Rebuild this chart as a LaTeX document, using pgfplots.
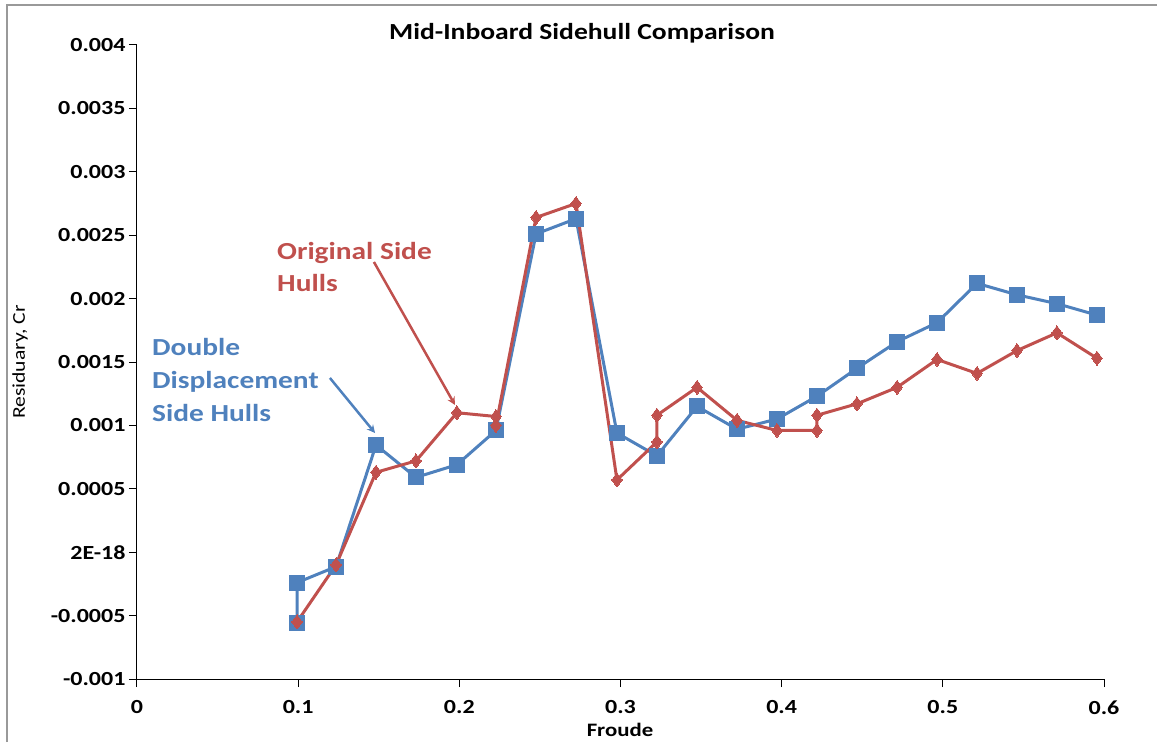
\documentclass[border=0pt]{standalone}
\usepackage{pgfplots}
\pgfplotsset{compat=1.18}
\usepackage{fontspec}
\setmainfont[FakeStretch=1.2]{Carlito}
\definecolor{xlblue}{HTML}{4F81BD}
\definecolor{xlred}{HTML}{C0504D}
\begin{document}
\begin{tikzpicture}
\begin{axis}[
  scale only axis, width=967pt, height=634pt,
  xmin=0, xmax=0.6, ymin=-0.001, ymax=0.004,
  axis x line=bottom, axis y line=left,
  axis line style={-, black, line width=1pt},
  tick align=outside, major tick length=8pt,
  tick style={black, line width=1pt},
  xtick={0,0.1,0.2,0.3,0.4,0.5,0.6},
  xticklabels={0,0.1,0.2,0.3,0.4,0.5,0.6},
  ytick={-0.001,-0.0005,0,0.0005,0.001,0.0015,0.002,0.0025,0.003,0.0035,0.004},
  yticklabels={-0.001,-0.0005,2E-18,0.0005,0.001,0.0015,0.002,0.0025,0.003,0.0035,0.004},
  ticklabel style={font=\bfseries\fontsize{20}{24}\selectfont, text=black},
  xticklabel style={yshift=-10pt},
  scaled ticks=false,
  clip=false,
]
\addplot[xlblue, line width=3pt, mark=square*, mark size=7.5pt, mark options={solid, line width=0pt, fill=xlblue}] coordinates {
(0.0993,-0.00056) (0.0993,-0.00024) (0.1235,-0.000114) (0.1483,0.000845)
(0.1731,0.00059) (0.1985,0.00069) (0.2227,0.00096) (0.2476,0.00251)
(0.2724,0.00263) (0.2978,0.00094) (0.3226,0.00076) (0.3475,0.00115)
(0.3723,0.00097) (0.3971,0.00105) (0.4219,0.00123) (0.4467,0.00145)
(0.4716,0.00166) (0.4964,0.00181) (0.5212,0.00212) (0.5460,0.00203)
(0.5708,0.00196) (0.5956,0.00187)
};
\addplot[xlred, line width=3pt, mark=diamond*, mark size=7pt, mark options={solid, line width=0pt, fill=xlred}] coordinates {
(0.0993,-0.00055) (0.1235,-0.0001) (0.1483,0.00063) (0.1731,0.00072)
(0.1985,0.0011) (0.2227,0.00107) (0.2227,0.001) (0.2476,0.00264)
(0.2724,0.00275) (0.2978,0.00057) (0.3226,0.00087) (0.3226,0.00108)
(0.3475,0.0013) (0.3723,0.00104) (0.3971,0.00096) (0.4219,0.00096)
(0.4219,0.00108) (0.4467,0.00117) (0.4716,0.0013) (0.4964,0.00152)
(0.5212,0.00141) (0.5460,0.00159) (0.5708,0.00173) (0.5956,0.00153)
};
\draw[xlred, line width=2.5pt, -stealth] (axis cs:0.1470,0.002289) -- (axis cs:0.1973,0.001161);
\draw[xlblue, line width=2.5pt, -stealth] (axis cs:0.1197,0.001374) -- (axis cs:0.1477,0.00094);
\end{axis}
% annotations (pt relative to axis origin: px-137, 679-py)
\node[anchor=west, align=left, text=xlred, font=\bfseries\fontsize{24.5}{32}\selectfont, inner sep=0pt] at (140pt,412pt) {Original Side\\Hulls};
\node[anchor=west, align=left, text=xlblue, font=\bfseries\fontsize{24.5}{33}\selectfont, inner sep=0pt] at (15pt,299pt) {Double\\Displacement\\Side Hulls};
\node[font=\bfseries\fontsize{23}{26}\selectfont, inner sep=0pt] at (445pt,646pt) {Mid-Inboard Sidehull Comparison};
\node[font=\bfseries\fontsize{19}{22}\selectfont, inner sep=0pt] at (483pt,-51pt) {Froude};
\node[rotate=90, font=\fontsize{18}{22}\selectfont, inner sep=0pt] at (-117pt,317pt) {Residuary, Cr};
\draw[gray!80, line width=2pt] (-130pt,-63pt) -- (-130pt,674pt) -- (1020pt,674pt);
\pgfresetboundingbox
\useasboundingbox (-137pt,-63pt) rectangle (1020pt,679pt);
\end{tikzpicture}
\end{document}
